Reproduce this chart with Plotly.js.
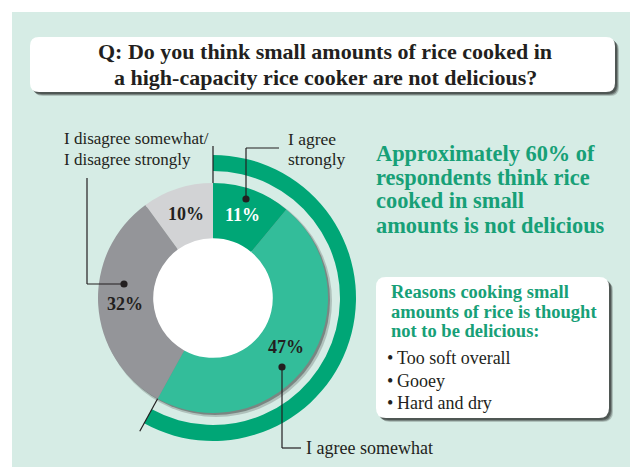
<!DOCTYPE html>
<html>
<head>
<meta charset="utf-8">
<script src="https://cdn.plot.ly/plotly-3.0.1.min.js"></script>
<style>html,body{margin:0;padding:0;background:#fff;}#chart{width:630px;height:467px;}</style>
</head>
<body>
<div id="chart"></div>
<script>
// ---- data ----
const categories = ['I agree strongly', 'I agree somewhat', 'I disagree somewhat/I disagree strongly', 'Other'];
const values = [11, 47, 32, 10];
const sliceColors = ['#00a676', '#33bd9a', '#949599', '#d2d3d5'];
const pctColors = ['#ffffff', '#231f20', '#231f20', '#231f20'];
const agreeIdx = [0, 1];
const titleLines = ['Q: Do you think small amounts of rice cooked in', 'a high-capacity rice cooker are not delicious?'];
const calloutLines = ['Approximately 60% of', 'respondents think rice', 'cooked in small', 'amounts is not delicious'];
const reasonsHead = ['Reasons cooking small', 'amounts of rice is thought', 'not to be delicious:'];
const reasons = ['Too soft overall', 'Gooey', 'Hard and dry'];

// ---- geometry helpers (pixel -> paper) ----
const W = 630, H = 467;
const px = x => x / W, py = y => 1 - y / H;
const CX = 213, CY = 298, R = 115, HOLE = 0.52;
const ARC_R = 143, ARC_IN = 127;
const DARK = '#231f20', GREEN_TXT = '#17a077';
const FONT = "'Liberation Serif', 'Times New Roman', serif";

function dom(r) { return { x: [px(CX - r), px(CX + r)], y: [py(CY + r), py(CY - r)] }; }
function rr(x0, y0, x1, y1, r) {
  const p = (x, y) => px(x).toFixed(5) + ',' + py(y).toFixed(5);
  return 'M' + p(x0 + r, y0) + ' L' + p(x1 - r, y0) + ' Q' + p(x1, y0) + ' ' + p(x1, y0 + r) +
    ' L' + p(x1, y1 - r) + ' Q' + p(x1, y1) + ' ' + p(x1 - r, y1) +
    ' L' + p(x0 + r, y1) + ' Q' + p(x0, y1) + ' ' + p(x0, y1 - r) +
    ' L' + p(x0, y0 + r) + ' Q' + p(x0, y0) + ' ' + p(x0 + r, y0) + ' Z';
}
function circ(x, y, r, fill) {
  return { type: 'circle', xref: 'paper', yref: 'paper', layer: 'below', x0: px(x - r), x1: px(x + r), y0: py(y + r), y1: py(y - r), fillcolor: fill, line: { width: 0 } };
}
function dot(x, y) { const c = circ(x, y, 3.6, DARK); c.layer = 'above'; return c; }
function seg(x0, y0, x1, y1) {
  return { type: 'line', xref: 'paper', yref: 'paper', layer: 'above', x0: px(x0), y0: py(y0), x1: px(x1), y1: py(y1), line: { color: DARK, width: 1.2 } };
}
function polar(r, frac) { const a = frac * 2 * Math.PI; return [CX + r * Math.sin(a), CY - r * Math.cos(a)]; }
function boxWithShadow(x0, y0, x1, y1, r) {
  return [
    { type: 'path', xref: 'paper', yref: 'paper', layer: 'below', path: rr(x0 + 4, y0 + 4, x1 + 4, y1 + 4, r), fillcolor: 'rgba(0,0,0,0.18)', line: { width: 0 } },
    { type: 'path', xref: 'paper', yref: 'paper', layer: 'below', path: rr(x0 + 3, y0 + 3, x1 + 3, y1 + 3, r), fillcolor: 'rgba(0,0,0,0.3)', line: { width: 0 } },
    { type: 'path', xref: 'paper', yref: 'paper', layer: 'below', path: rr(x0 + 2, y0 + 2, x1 + 2, y1 + 2, r), fillcolor: 'rgba(0,0,0,0.35)', line: { width: 0 } },
    { type: 'path', xref: 'paper', yref: 'paper', layer: 'below', path: rr(x0, y0, x1, y1, r), fillcolor: '#ffffff', line: { width: 0 } }
  ];
}

const total = values.reduce((a, b) => a + b, 0);
const agreeTotal = agreeIdx.reduce((s, i) => s + values[i], 0);

// ---- traces ----
const traces = [
  {
    type: 'pie', values: values, labels: categories, sort: false, direction: 'clockwise', rotation: 0,
    hole: HOLE, domain: dom(R), marker: { colors: sliceColors, line: { width: 0 } },
    textinfo: 'none', hoverinfo: 'label+percent', showlegend: false
  },
  {
    type: 'pie', values: [agreeTotal, total - agreeTotal], labels: ['Agree', 'Rest'], sort: false, direction: 'clockwise', rotation: 0,
    hole: ARC_IN / ARC_R, domain: dom(ARC_R), marker: { colors: ['#00a676', 'rgba(0,0,0,0)'], line: { width: 0 } },
    textinfo: 'none', hoverinfo: 'skip', showlegend: false
  }
];

// ---- shapes ----
let shapes = [
  { type: 'rect', xref: 'paper', yref: 'paper', layer: 'below', x0: px(12), x1: px(W), y0: py(H), y1: py(12), fillcolor: '#d6ece5', line: { width: 0 } }
];
shapes = shapes.concat(boxWithShadow(30, 37, 615, 92, 9));
shapes = shapes.concat(boxWithShadow(376, 277, 609, 418, 10));
// donut drop shadow + white centre
shapes.push(circ(CX + 3, CY + 3, R + 1, 'rgba(0,0,0,0.18)'));
shapes.push(circ(CX + 2, CY + 2, R, 'rgba(0,0,0,0.3)'));
shapes.push(circ(CX, CY, R * HOLE + 1, '#ffffff'));
// boundary ticks for the "agree" arc
[0, agreeTotal / total].forEach(f => {
  const a = polar(R, f), b = polar(152, f);
  shapes.push(seg(a[0], a[1], b[0], b[1]));
});
// leader lines
shapes.push(seg(246, 199, 246, 148), seg(246, 148, 279, 148), dot(246, 199));
shapes.push(seg(124, 284, 87, 284), seg(87, 284, 87, 178), dot(124, 284));
shapes.push(seg(282, 367, 282, 448), seg(282, 448, 301, 448), dot(282, 367));

// ---- annotations ----
const ann = [];
function txt(t, x, y, size, color, bold, anchor) {
  ann.push({ xref: 'paper', yref: 'paper', x: px(x), y: py(y), xanchor: anchor || 'left', yanchor: 'middle', showarrow: false,
    text: bold ? '<b>' + t + '</b>' : t, font: { family: FONT, size: size, color: color } });
}
titleLines.forEach((t, i) => txt(t, 325, 52 + i * 25.5, 22, DARK, true, 'center'));
calloutLines.forEach((t, i) => txt(t, 374, 153 + i * 24, 22.4, GREEN_TXT, true));
reasonsHead.forEach((t, i) => txt(t, 389, 292 + i * 19.5, 18.5, GREEN_TXT, true));
reasons.forEach((t, i) => txt('•\u2009' + t, 385, 358 + i * 22.5, 18, DARK, false));
txt('I disagree somewhat/', 62, 138, 17, DARK, false);
txt('I disagree strongly', 62, 160, 17, DARK, false);
txt('I agree', 286, 139, 17.5, DARK, false);
txt('strongly', 286, 159, 17.5, DARK, false);
txt('I agree somewhat', 304, 448, 18, DARK, false);
// percentage labels at slice mid-angles
let cum = 0;
values.forEach((v, i) => {
  const mid = (cum + v / 2) / total; cum += v;
  const p = polar(88, mid);
  txt(v + '%', p[0], p[1], 18, pctColors[i], true, 'center');
});

const layout = {
  width: W, height: H, margin: { l: 0, r: 0, t: 0, b: 0 },
  paper_bgcolor: '#ffffff', showlegend: false,
  shapes: shapes, annotations: ann
};
Plotly.newPlot('chart', traces, layout, { displayModeBar: false, staticPlot: true });
</script>
</body>
</html>
